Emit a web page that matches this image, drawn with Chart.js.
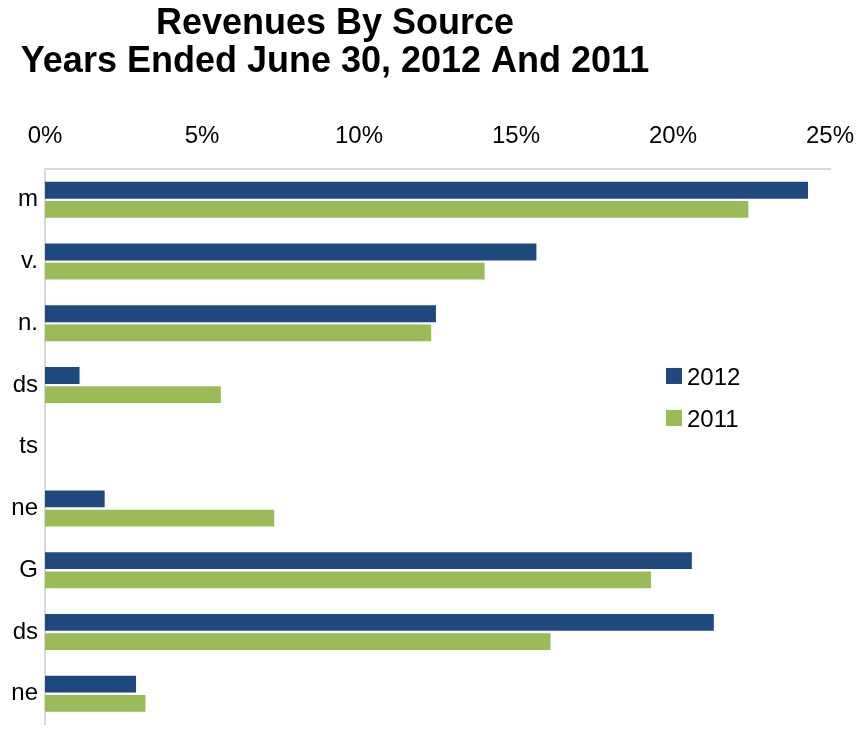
<!DOCTYPE html>
<html>
<head>
<meta charset="utf-8">
<script src="https://cdn.jsdelivr.net/npm/chart.js@4.4.1/dist/chart.umd.min.js"></script>
<style>
  html, body { margin: 0; padding: 0; background: #fff; overflow: hidden; width: 862px; height: 738px; }
  /* the chart is wider/taller than the page and is cut at the left and bottom edges */
  #wrap { position: absolute; left: -300px; top: 0; width: 1162px; height: 746px; }
</style>
</head>
<body>
<div id="wrap"><canvas id="c"></canvas></div>
<script>
// Share of total revenues (%) by source; only the tail of each source name shows
const categories = ['m', 'v.', 'n.', 'ds', 'ts', 'ne', 'G', 'ds', 'ne'];
const seriesNames = ['2012', '2011'];
const share2012 = [24.3, 15.65, 12.45, 1.1, 0, 1.9, 20.6, 21.3, 2.9];
const share2011 = [22.4, 14.0, 12.3, 5.6, 0, 7.3, 19.3, 16.1, 3.2];
const valueTicks = [0, 5, 10, 15, 20, 25];
const titleLines = ['Revenues By Source', 'Years Ended June 30, 2012 And 2011'];

const FONT = '"Liberation Sans", Arial, sans-serif';
const BLUE = '#1F497D';
const GREEN = '#9BBB59';
const AXIS_GRAY = '#d9d9d9';

// Legend drawn inside the plot area, to the right of the short bars
const sideLegend = {
  id: 'sideLegend',
  afterDatasetsDraw(chart) {
    const { ctx, chartArea } = chart;
    ctx.save();
    ctx.font = '24px ' + FONT;
    ctx.textBaseline = 'middle';
    ctx.textAlign = 'left';
    chart.data.datasets.forEach((ds, i) => {
      const x = chartArea.left + 621;
      const y = chartArea.top + 199 + i * 42;
      ctx.fillStyle = ds.backgroundColor;
      ctx.fillRect(x, y, 16, 16);
      ctx.fillStyle = '#000';
      ctx.fillText(ds.label, x + 21, y + 10);
    });
    ctx.restore();
  }
};

new Chart(document.getElementById('c'), {
  type: 'bar',
  data: {
    labels: categories,
    datasets: [
      { label: seriesNames[0], data: share2012, backgroundColor: BLUE },
      { label: seriesNames[1], data: share2011, backgroundColor: GREEN }
    ]
  },
  options: {
    indexAxis: 'y',
    responsive: true,
    maintainAspectRatio: false,
    animation: false,
    layout: { padding: { left: 140, right: 32, top: 0, bottom: 1 } },
    datasets: {
      bar: { categoryPercentage: 0.62, barPercentage: 0.88 }
    },
    plugins: {
      legend: { display: false },
      tooltip: { enabled: false },
      title: {
        display: true,
        text: titleLines,
        color: '#000',
        font: { family: FONT, size: 36, weight: 'bold', lineHeight: 1.03 },
        padding: { top: 6, bottom: 24 }
      }
    },
    scales: {
      x: {
        position: 'top',
        min: valueTicks[0],
        max: valueTicks[valueTicks.length - 1],
        afterBuildTicks: (s) => { s.ticks = valueTicks.map(v => ({ value: v })); },
        // end labels may overhang the plot edges; the layout padding already leaves room
        afterFit: (s) => { s.paddingLeft = 0; s.paddingRight = 0; },
        grid: { display: false, drawTicks: false },
        border: { display: true, color: AXIS_GRAY, width: 2 },
        ticks: {
          padding: 18,
          color: '#000',
          font: { family: FONT, size: 24 },
          callback: (v) => v + '%'
        }
      },
      y: {
        afterFit: (s) => { s.width = 205; },
        grid: { display: false, drawTicks: false },
        border: { display: true, color: AXIS_GRAY, width: 2 },
        ticks: {
          padding: 7,
          color: '#000',
          font: { family: FONT, size: 24 }
        }
      }
    }
  },
  plugins: [sideLegend]
});
</script>
</body>
</html>
